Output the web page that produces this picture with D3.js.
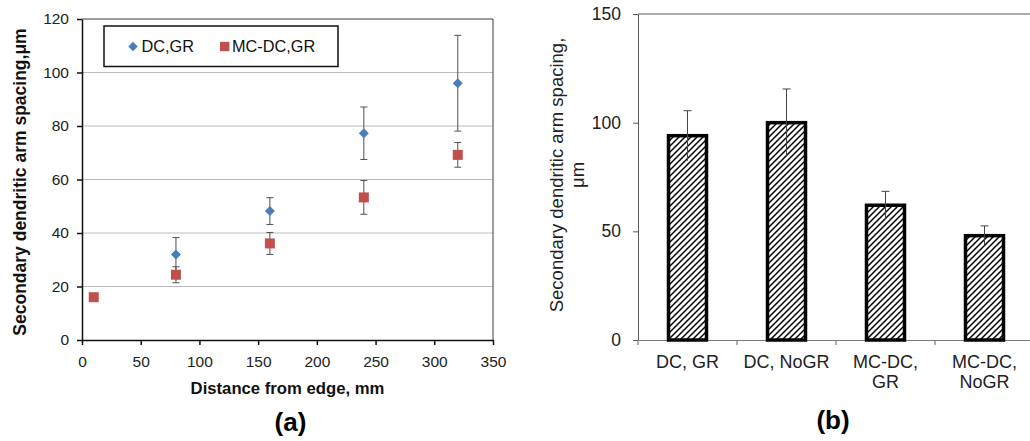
<!DOCTYPE html>
<html><head><meta charset="utf-8">
<script src="https://cdn.jsdelivr.net/npm/d3@7"></script>
<style>
html,body{margin:0;padding:0;background:#fff;}
svg{display:block;font-family:"Liberation Sans",Arial,Helvetica,sans-serif;}
</style></head><body>
<svg id="fig" width="1030" height="441"></svg>
<script>
// Panel (a): secondary dendritic arm spacing vs distance from the ingot edge
const distanceTicks = [0, 50, 100, 150, 200, 250, 300, 350];
const spacingTicksA = [0, 20, 40, 60, 80, 100, 120];
const dcGrDistance = [80, 160, 240, 320];
const dcGrSpacing = [32, 48.2, 77.3, 96];
const dcGrError = [6.3, 5, 9.8, 17.9];
const mcDcGrDistance = [10, 80, 160, 240, 320];
const mcDcGrSpacing = [16, 24.4, 36.1, 53.3, 69.2];
const mcDcGrError = [0, 3, 4.1, 6.3, 4.6];
const seriesNames = ["DC,GR", "MC-DC,GR"];

// Panel (b): mean spacing per casting condition
const conditions = ["DC, GR", "DC, NoGR", "MC-DC, GR", "MC-DC, NoGR"];
const meanSpacing = [94, 100, 62, 48];
const meanError = [11.5, 15.5, 6.4, 4.5];
const spacingTicksB = [0, 50, 100, 150];

const blue = "#4a7ebb", red = "#c0504d";
const svg = d3.select("#fig");
svg.append("rect").attr("width", 1030).attr("height", 441).attr("fill", "#fff");
const defs = svg.append("defs");

/* ---------- panel (a) ---------- */
const A = {left: 82, right: 493, top: 19, bottom: 340};
const xA = d3.scaleLinear().domain([0, 350]).range([A.left, A.right]);
const yA = d3.scaleLinear().domain([0, 120]).range([A.bottom, A.top]);
const gA = svg.append("g");

gA.append("g").selectAll("line")
  .data(spacingTicksA.filter(v => v > 0 && v < 120)).join("line")
  .attr("x1", A.left).attr("x2", A.right)
  .attr("y1", d => yA(d)).attr("y2", d => yA(d))
  .attr("stroke", "#bcbcbc").attr("stroke-width", 1);

gA.append("path")
  .attr("d", `M${A.left},${yA(120)}H${A.right}V${A.bottom}`)
  .attr("fill", "none").attr("stroke", "#3c3c3c").attr("stroke-width", 1);

function styleAxis(g, color, width, size, fill) {
  g.select(".domain").attr("stroke", color).attr("stroke-width", width);
  g.selectAll(".tick line").attr("stroke", color).attr("stroke-width", width);
  g.selectAll(".tick text").attr("font-size", size).attr("fill", fill)
    .attr("font-family", "Liberation Sans, Arial, sans-serif");
}

const axAy = gA.append("g").attr("transform", `translate(${A.left},0)`)
  .call(d3.axisLeft(yA).tickValues(spacingTicksA).tickSize(5).tickPadding(8).tickSizeOuter(0));
styleAxis(axAy, "#111", 1.5, 15.5, "#222");
const axAx = gA.append("g").attr("transform", `translate(0,${A.bottom})`)
  .call(d3.axisBottom(xA).tickValues(distanceTicks).tickSize(5).tickPadding(11).tickSizeOuter(0));
styleAxis(axAx, "#111", 1.5, 15.5, "#222");

// error bars, drawn beneath the markers
function errorBars(g, xs, ys, es) {
  const d = xs.map((x, i) => ({x, y: ys[i], e: es[i]})).filter(p => p.e > 0);
  const eg = g.append("g").attr("stroke", "#505050").attr("stroke-width", 1);
  eg.selectAll("line.v").data(d).join("line").attr("class", "v")
    .attr("x1", p => xA(p.x)).attr("x2", p => xA(p.x))
    .attr("y1", p => yA(p.y + p.e)).attr("y2", p => yA(p.y - p.e));
  eg.selectAll("line.t").data(d).join("line").attr("class", "t")
    .attr("x1", p => xA(p.x) - 3.5).attr("x2", p => xA(p.x) + 3.5)
    .attr("y1", p => yA(p.y + p.e)).attr("y2", p => yA(p.y + p.e));
  eg.selectAll("line.b").data(d).join("line").attr("class", "b")
    .attr("x1", p => xA(p.x) - 3.5).attr("x2", p => xA(p.x) + 3.5)
    .attr("y1", p => yA(p.y - p.e)).attr("y2", p => yA(p.y - p.e));
}
errorBars(gA, dcGrDistance, dcGrSpacing, dcGrError);
errorBars(gA, mcDcGrDistance, mcDcGrSpacing, mcDcGrError);

const diamond = d3.symbol().type(d3.symbolSquare).size(50);
const square = d3.symbol().type(d3.symbolSquare).size(100);
gA.append("g").selectAll("path").data(dcGrDistance).join("path")
  .attr("d", diamond)
  .attr("transform", (d, i) => `translate(${xA(d)},${yA(dcGrSpacing[i])}) rotate(45)`)
  .attr("fill", blue);
gA.append("g").selectAll("path").data(mcDcGrDistance).join("path")
  .attr("d", square)
  .attr("transform", (d, i) => `translate(${xA(d)},${yA(mcDcGrSpacing[i])})`)
  .attr("fill", red);

// legend
const lg = gA.append("g");
lg.append("rect").attr("x", 104).attr("y", 26).attr("width", 234).attr("height", 40.5)
  .attr("fill", "#fff").attr("stroke", "#111").attr("stroke-width", 1.5);
lg.append("path").attr("d", d3.symbol().type(d3.symbolSquare).size(45))
  .attr("transform", "translate(133,46.5) rotate(45)").attr("fill", blue);
lg.append("text").attr("x", 141.5).attr("y", 52.3).attr("font-size", 16.3).attr("fill", "#111").text(seriesNames[0]);
lg.append("path").attr("d", d3.symbol().type(d3.symbolSquare).size(88))
  .attr("transform", "translate(224.7,46.5)").attr("fill", red);
lg.append("text").attr("x", 232).attr("y", 52.3).attr("font-size", 16.3).attr("fill", "#111").text(seriesNames[1]);

gA.append("text").attr("transform", "translate(25.5,182) rotate(-90)")
  .attr("text-anchor", "middle").attr("font-size", 17.5).attr("font-weight", "bold").attr("fill", "#111")
  .text("Secondary dendritic arm spacing,μm");
gA.append("text").attr("x", (A.left + A.right) / 2).attr("y", 394)
  .attr("text-anchor", "middle").attr("font-size", 16.7).attr("font-weight", "bold").attr("fill", "#111")
  .text("Distance from edge, mm");
gA.append("text").attr("x", 290.5).attr("y", 431)
  .attr("text-anchor", "middle").attr("font-size", 26).attr("font-weight", "bold").attr("fill", "#000")
  .text("(a)");

/* ---------- panel (b) ---------- */
const B = {left: 638, right: 1034, top: 14, bottom: 340};
const xB = d3.scaleBand().domain(conditions).range([B.left, B.right]).padding(0);
const yB = d3.scaleLinear().domain([0, 150]).range([B.bottom, B.top]);
const gB = svg.append("g");

const pat = defs.append("pattern").attr("id", "hatch")
  .attr("patternUnits", "userSpaceOnUse").attr("width", 6).attr("height", 6);
pat.append("rect").attr("width", 6).attr("height", 6).attr("fill", "#fff");
pat.append("path").attr("d", "M0,6L6,0M-1.5,1.5L1.5,-1.5M4.5,7.5L7.5,4.5")
  .attr("stroke", "#000").attr("stroke-width", 1.5);

gB.append("line").attr("x1", B.left).attr("x2", B.right)
  .attr("y1", yB(150)).attr("y2", yB(150)).attr("stroke", "#5a5a5a").attr("stroke-width", 1);

const axBy = gB.append("g").attr("transform", `translate(${B.left},0)`)
  .call(d3.axisLeft(yB).tickValues(spacingTicksB).tickSize(5).tickPadding(12).tickSizeOuter(0));
styleAxis(axBy, "#5a5a5a", 1, 17.5, "#222");

const axBx = gB.append("g").attr("transform", `translate(0,${B.bottom})`)
  .call(d3.axisBottom(xB).tickSize(0).tickPadding(15).tickSizeOuter(0));
styleAxis(axBx, "#7a7a7a", 1.2, 18, "#222");
// category boundary ticks
axBx.selectAll("line.edge").data(conditions).join("line").attr("class", "edge")
  .attr("x1", d => xB(d)).attr("x2", d => xB(d)).attr("y1", 0).attr("y2", 5)
  .attr("stroke", "#7a7a7a").attr("stroke-width", 1.2);
// wrap long category labels onto two lines
axBx.selectAll(".tick text").each(function(d) {
  const t = d3.select(this);
  if (this.getComputedTextLength() > xB.bandwidth() * 0.9) {
    const parts = d.split(", ");
    t.text(null);
    t.append("tspan").attr("x", 0).attr("dy", "0.71em").text(parts[0] + ",");
    t.append("tspan").attr("x", 0).attr("dy", "1.14em").text(parts[1]);
  }
});

const barW = 38;
gB.append("g").selectAll("rect").data(conditions).join("rect")
  .attr("x", d => xB(d) + xB.bandwidth() / 2 - barW / 2)
  .attr("width", barW)
  .attr("y", (d, i) => yB(meanSpacing[i]))
  .attr("height", (d, i) => yB(0) - yB(meanSpacing[i]))
  .attr("fill", "url(#hatch)").attr("stroke", "#000").attr("stroke-width", 3.5);

const eb = gB.append("g").attr("stroke", "#444").attr("stroke-width", 1);
eb.selectAll("line.v").data(conditions).join("line").attr("class", "v")
  .attr("x1", d => xB(d) + xB.bandwidth() / 2).attr("x2", d => xB(d) + xB.bandwidth() / 2)
  .attr("y1", (d, i) => yB(meanSpacing[i] + meanError[i]))
  .attr("y2", (d, i) => yB(meanSpacing[i] - meanError[i]));
eb.selectAll("line.t").data(conditions).join("line").attr("class", "t")
  .attr("x1", d => xB(d) + xB.bandwidth() / 2 - 4).attr("x2", d => xB(d) + xB.bandwidth() / 2 + 4)
  .attr("y1", (d, i) => yB(meanSpacing[i] + meanError[i]))
  .attr("y2", (d, i) => yB(meanSpacing[i] + meanError[i]));

const tb = gB.append("text").attr("transform", "translate(563,175) rotate(-90)")
  .attr("text-anchor", "middle").attr("font-size", 18.5).attr("fill", "#222");
tb.append("tspan").attr("x", 0).attr("dy", 0).text("Secondary dendritic arm spacing,");
tb.append("tspan").attr("x", 0).attr("dy", 21).text("μm");

gB.append("text").attr("x", 833).attr("y", 429)
  .attr("text-anchor", "middle").attr("font-size", 26).attr("font-weight", "bold").attr("fill", "#000")
  .text("(b)");
</script>
</body></html>
